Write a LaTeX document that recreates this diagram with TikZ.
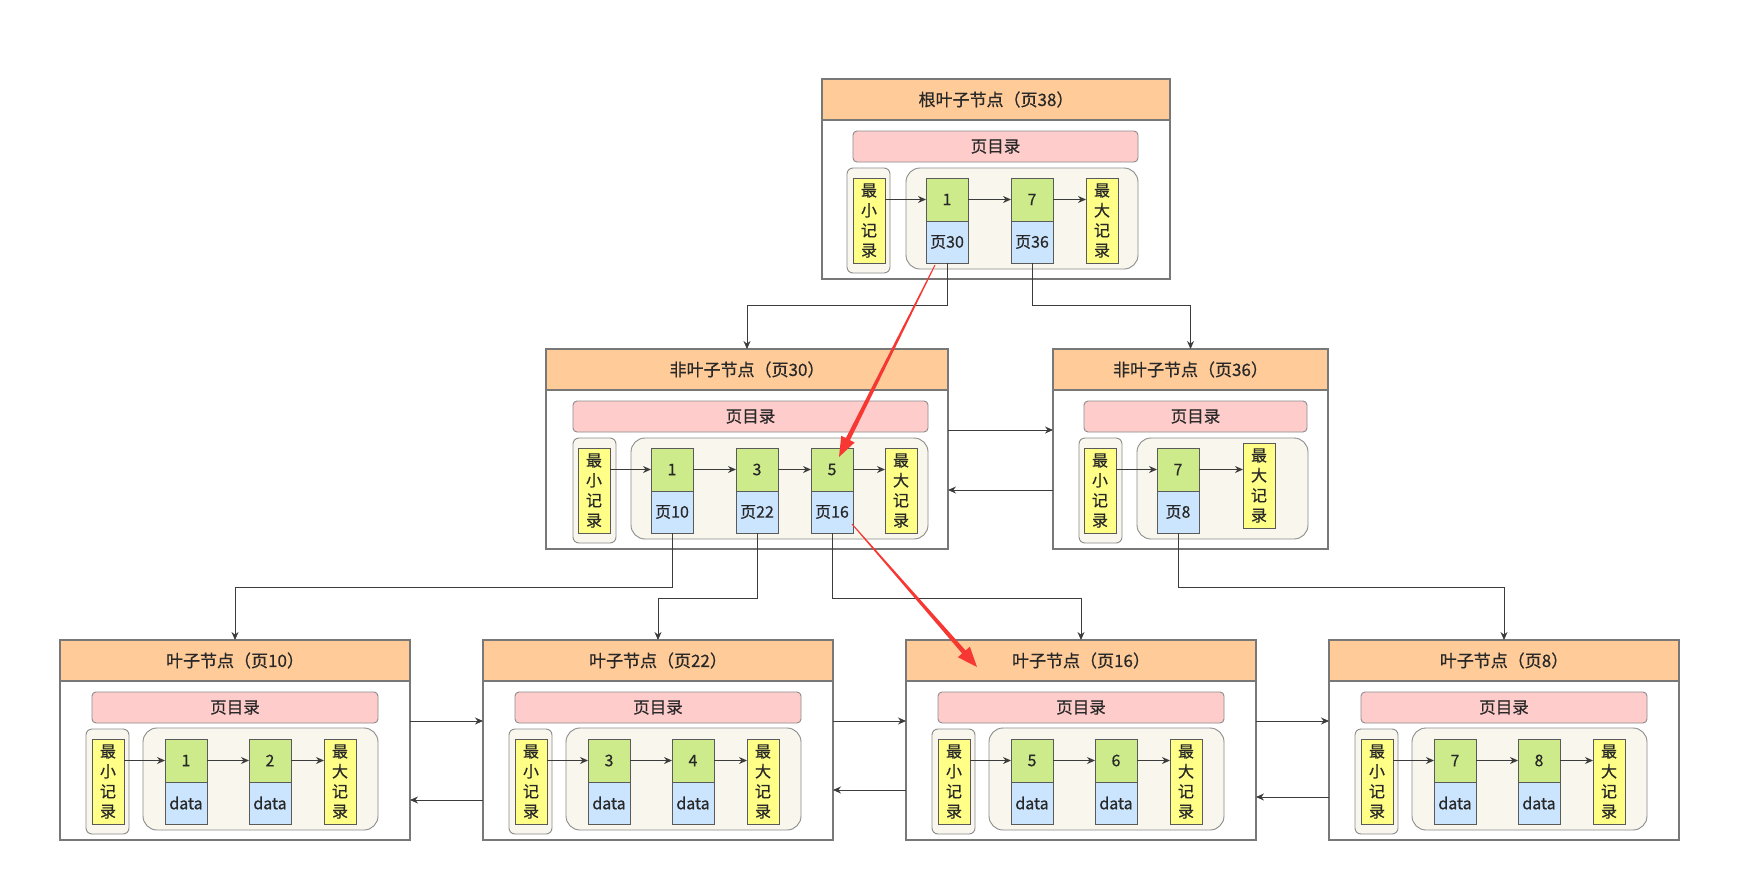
\documentclass[tikz,border=0pt]{standalone}
\usepackage{fontspec}
\setmainfont{Noto Sans CJK SC}[FakeBold=0.5]
\usetikzlibrary{arrows.meta,calc}
\definecolor{bordc}{RGB}{120,120,120}
\definecolor{inc}{RGB}{90,90,90}
\definecolor{hdrc}{RGB}{255,204,153}
\definecolor{pinkc}{RGB}{255,204,204}
\definecolor{grnc}{RGB}{205,235,139}
\definecolor{bluc}{RGB}{204,229,255}
\definecolor{yelc}{RGB}{255,255,136}
\definecolor{contc}{RGB}{249,247,237}
\definecolor{connc}{RGB}{60,60,60}
\definecolor{txtc}{RGB}{40,40,40}
\definecolor{redc}{RGB}{246,55,50}
\newcommand\fsz[1]{\fontsize{#1}{20}\selectfont}
\newcommand\bx[7]{\node[#1,anchor=north west,minimum width={(#5)-(#3)},minimum height={(#6)-(#4)}] (#2) at (#3,#4) {#7};}
\newcommand\pgbox[5]{%
  \bx{outerbox}{#1}{#2}{#3}{#4}{#3+200}{}
  \bx{hdr}{#1h}{#2}{#3}{#4}{#3+41}{#5}}
\newcommand\rc[5]{%
  \bx{grn}{#1g}{#2}{#3+99}{#2+42}{#3+142}{#4}
  \bx{blu}{#1b}{#2}{#3+142}{#2+42}{#3+184}{#5}}
\newcommand\mn[4]{%
  \bx{minout}{#1o}{#2}{#3+89}{#2+43}{#3+194}{}
  \bx{yel}{#1}{#4}{#3+99}{#4+32}{#3+184}{最\\小\\记\\录}}
\newcommand\mx[3]{\bx{yel}{#1}{#2}{#3+99}{#2+32}{#3+184}{最\\大\\记\\录}}
\newcommand\leafpg[5]{% name, L, title, n1, n2
  \pgbox{#1}{#2}{640}{#2+350}{#3}
  \bx{pinkb}{#1p}{#2+32}{692}{#2+318}{723}{页目录}
  \bx{cont}{#1c}{#2+83}{728}{#2+318}{830}{}
  \mn{#1Min}{#2+26}{640}{#2+32}
  \rc{#1Ra}{#2+105}{640}{#4}{data}
  \rc{#1Rb}{#2+189}{640}{#5}{data}
  \mx{#1Max}{#2+264}{640}
  \draw[conn] (#1Min.east |- #1Rag.west) -- (#1Rag.west);
  \draw[conn] (#1Rag.east) -- (#1Rbg.west);
  \draw[conn] (#1Rbg.east) -- (#1Max.west |- #1Rbg.east);}
\newcommand\redarr[5]{% name, start, end, shaft end half width, head
  \coordinate (#1s) at (#2);
  \coordinate (#1e) at (#3);
  \coordinate (#1hb) at ($(#1e)!20pt!(#1s)$);
  \fill[redc] ($(#1s)!0.5pt!90:(#1e)$) -- ($(#1hb)!#4!90:(#1e)$) -- ($(#1hb)!#5!90:(#1e)$) -- (#1e)
    -- ($(#1hb)!#5!-90:(#1e)$) -- ($(#1hb)!#4!-90:(#1e)$) -- ($(#1s)!0.5pt!-90:(#1e)$) -- cycle;}
\begin{document}
\begin{tikzpicture}[x=1pt,y=-1pt,
  every node/.style={inner sep=0pt,outer sep=0pt,text=txtc},
  outerbox/.style={draw=bordc,fill=white,line width=1.3pt},
  hdr/.style={draw=bordc,fill=hdrc,line width=1.3pt,font=\fsz{17}},
  pinkb/.style={draw=inc!70,fill=pinkc,rounded corners=4pt,line width=0.9pt,font=\fsz{16.5}},
  minout/.style={draw=inc!70,fill=contc,rounded corners=6pt,line width=0.9pt},
  cont/.style={draw=inc!70,fill=contc,rounded corners=14pt,line width=0.9pt},
  yel/.style={draw=inc,fill=yelc,line width=0.9pt,align=center,font=\fsz{16}},
  grn/.style={draw=inc,fill=grnc,line width=0.9pt,font=\fsz{16}},
  blu/.style={draw=inc,fill=bluc,line width=0.9pt,font=\fsz{16}},
  conn/.style={draw=connc,line width=0.9pt,-{Stealth[length=8pt,width=7pt]}}]
\useasboundingbox (0,0) rectangle (1741,889);
% root
\pgbox{root}{822}{79}{1170}{根叶子节点（页38）}
\bx{pinkb}{rootP}{853}{131}{1138}{162}{页目录}
\bx{cont}{rootC}{906}{168}{1138}{269}{}
\mn{rootMin}{847}{79}{853}
\rc{rootRa}{926}{79}{1}{页30}
\rc{rootRb}{1011}{79}{7}{页36}
\mx{rootMax}{1086}{79}
\draw[conn] (rootMin.east |- rootRag.west) -- (rootRag.west);
\draw[conn] (rootRag.east) -- (rootRbg.west);
\draw[conn] (rootRbg.east) -- (rootMax.west |- rootRbg.east);
% non-leaf 30
\pgbox{na}{546}{349}{948}{非叶子节点（页30）}
\bx{pinkb}{naP}{573}{401}{928}{432}{页目录}
\bx{cont}{naC}{631}{438}{928}{539}{}
\mn{naMin}{573}{349}{578}
\rc{naRa}{651}{349}{1}{页10}
\rc{naRb}{736}{349}{3}{页22}
\rc{naRc}{811}{349}{5}{页16}
\mx{naMax}{885}{349}
\draw[conn] (naMin.east |- naRag.west) -- (naRag.west);
\draw[conn] (naRag.east) -- (naRbg.west);
\draw[conn] (naRbg.east) -- (naRcg.west);
\draw[conn] (naRcg.east) -- (naMax.west |- naRcg.east);
% non-leaf 36
\pgbox{nb}{1053}{349}{1328}{非叶子节点（页36）}
\bx{pinkb}{nbP}{1084}{401}{1307}{432}{页目录}
\bx{cont}{nbC}{1137}{438}{1308}{539}{}
\mn{nbMin}{1079}{349}{1084}
\rc{nbRa}{1157}{349}{7}{页8}
\mx{nbMax}{1243}{344}
\draw[conn] (nbMin.east |- nbRag.west) -- (nbRag.west);
\draw[conn] (nbRag.east) -- (nbMax.west |- nbRag.east);
% leaves
\leafpg{la}{60}{叶子节点（页10）}{1}{2}
\leafpg{lb}{483}{叶子节点（页22）}{3}{4}
\leafpg{lc}{906}{叶子节点（页16）}{5}{6}
\leafpg{ld}{1329}{叶子节点（页8）}{7}{8}
% tree connectors
\draw[conn] (rootRab.south) -- ++(0,42) -| (nah.north);
\draw[conn] (rootRbb.south) -- ++(0,42) -| (nbh.north);
\draw[conn] (naRab.south) -- ++(0,54) -| (lah.north);
\draw[conn] (naRbb.south) -- ++(0,65) -| (lbh.north);
\draw[conn] (naRcb.south) -- ++(0,65) -| (lch.north);
\draw[conn] (nbRab.south) -- ++(0,54) -| (ldh.north);
% sibling links
\draw[conn] ([yshift=19pt]na.east) -- ([yshift=19pt]nb.west);
\draw[conn] ([yshift=-41pt]nb.west) -- ([yshift=-41pt]na.east);
\draw[conn] ([yshift=19pt]la.east) -- ([yshift=19pt]lb.west);
\draw[conn] ([yshift=-60pt]lb.west) -- ([yshift=-60pt]la.east);
\draw[conn] ([yshift=19pt]lb.east) -- ([yshift=19pt]lc.west);
\draw[conn] ([yshift=-50pt]lc.west) -- ([yshift=-50pt]lb.east);
\draw[conn] ([yshift=19pt]lc.east) -- ([yshift=19pt]ld.west);
\draw[conn] ([yshift=-57pt]ld.west) -- ([yshift=-57pt]lc.east);
% red arrows
\redarr{ra}{935,265}{839,457}{2.3pt}{7.5pt}
\redarr{rb}{852,524}{977,667}{2.3pt}{8pt}
\end{tikzpicture}
\end{document}
